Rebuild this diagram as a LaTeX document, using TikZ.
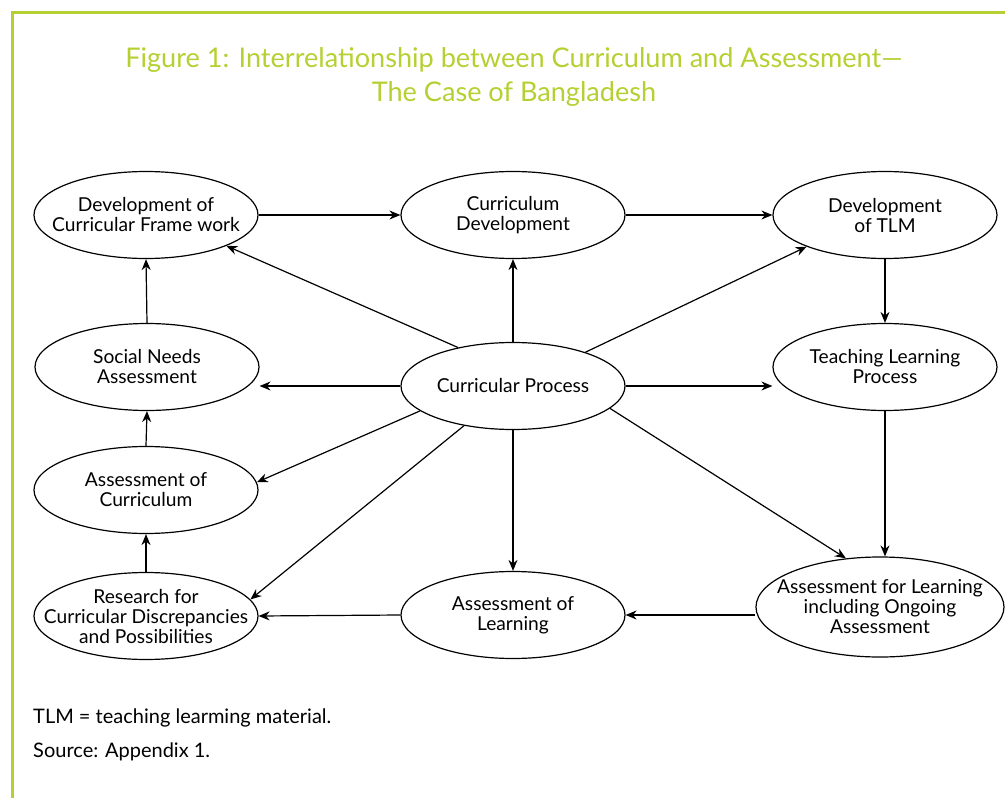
\documentclass[tikz,border=0pt]{standalone}
\usepackage{fontspec}
\setmainfont{Lato}
\usetikzlibrary{shapes.geometric,arrows.meta}
\definecolor{lime}{RGB}{181,208,50}
\tikzset{
  ell/.style={draw, line width=1.2pt, ellipse, minimum width=224pt, minimum height=87pt, inner sep=-40pt, align=center, font=\fontsize{19.2}{20}\selectfont},
  arr/.style={line width=1.2pt, -{Stealth[length=11pt,width=9pt]}},
}
\begin{document}
\begin{tikzpicture}[x=1pt,y=-1pt]
\useasboundingbox (0,0) rectangle (1005,798);
\begin{scope}
\clip (0,0) rectangle (1005,798);
\draw[lime, line width=3pt] (12.5,12.5) rectangle (1020,820);
\end{scope}
\node[text=lime, font=\fontsize{27.1}{34}\selectfont, align=center] (title) at (514,77) {Figure 1: Interrelationship between Curriculum and Assessment—\\The Case of Bangladesh};

\node[ell] (dcf) at (146,215) {Development of\\Curricular Frame work};
\node[ell] (cd) at (513,215) {Curriculum\\Development};
\node[ell] (tlm) at (885,215) {Development\\of TLM};
\node[ell] (sna) at (147,367) {Social Needs\\Assessment};
\node[ell] (cp) at (513,386) {Curricular Process};
\node[ell] (tlp) at (885,367) {Teaching Learning\\Process};
\node[ell] (aoc) at (146,490) {Assessment of\\Curriculum};
\node[ell] (res) at (146,616) {Research for\\Curricular Discrepancies\\and Possibilities};
\node[ell] (aol) at (513,615) {Assessment of\\Learning};
\node[ell, minimum width=248pt, minimum height=100pt] (afl) at (880,607) {Assessment for Learning\\including Ongoing\\Assessment};

\draw[arr] (dcf) -- (cd);
\draw[arr] (cd) -- (tlm);
\draw[arr] (tlm.south) -- (tlm.south |- tlp.north);
\draw[arr] (tlp.south) -- (tlp.south |- afl.north);
\draw[arr] (aol.east -| afl.west) -- (aol.east);
\draw[arr] (aol.west) -- (res.east);
\draw[arr] (res.north) -- (aoc.south);
\draw[arr] (aoc.north) -- (sna.south);
\draw[arr] (sna.north) -- (dcf.south);

\draw[arr] (cp.145.8) -- (dcf.-21);
\draw[arr] (cp.north) -- (cd.south);
\draw[arr] (cp.25.9) -- (tlm.202.4);
\draw[arr] (cp.west) -- (cp.west -| sna.east);
\draw[arr] (cp.east) -- (cp.east -| tlp.west);
\draw[arr] (cp.195.6) -- (aoc.4);
\draw[arr] (cp.219.4) -- (res.9.6);
\draw[arr] (cp.south) -- (aol.north);
\draw[arr] (cp.-13.5) -- (afl.125);

\node[anchor=base west, font=\fontsize{20}{23}\selectfont, inner sep=0pt] (fn1) at (33,723) {TLM = teaching learming material.};
\node[anchor=base west, font=\fontsize{20}{23}\selectfont, inner sep=0pt] (fn2) at (33,757) {Source: Appendix 1.};
\end{tikzpicture}
\end{document}
